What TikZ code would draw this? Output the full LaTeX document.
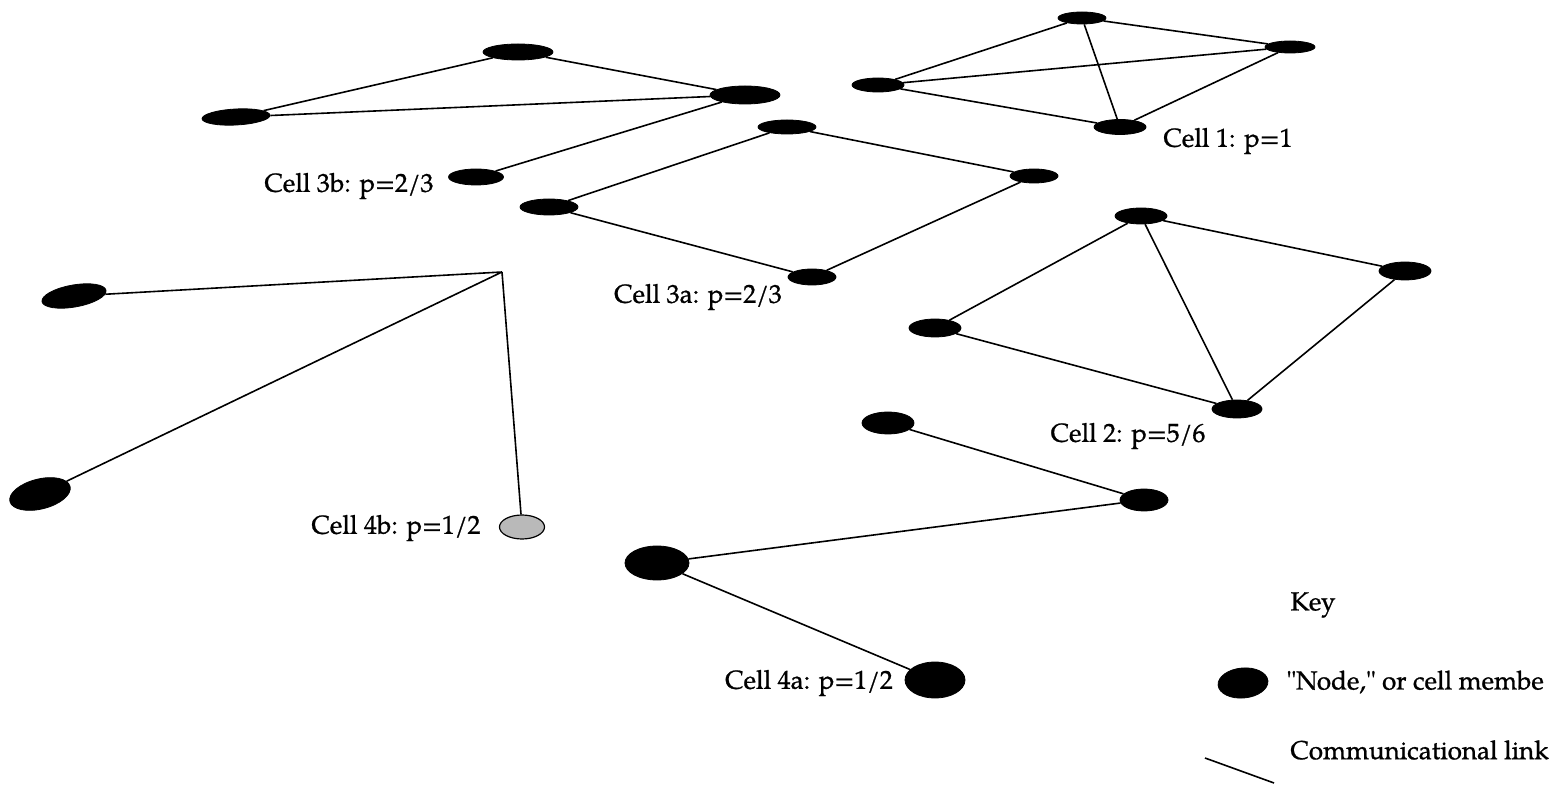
\documentclass[tikz,border=0pt]{standalone}
\usepackage{fontspec}
\setmainfont{TeX Gyre Pagella}
\newfontfamily\lblfont{TeX Gyre Pagella}[FakeBold=0.9]
\usetikzlibrary{shapes.geometric}
\tikzset{
  cellnode/.style 2 args={ellipse, fill=black, draw=black, line width=0.4pt, minimum width=#1*0.5pt, minimum height=#2*0.5pt, inner sep=0pt},
  graynode/.style 2 args={ellipse, fill=gray!55, draw=black, line width=0.6pt, minimum width=#1*0.5pt, minimum height=#2*0.5pt, inner sep=0pt},
  link/.style={line width=0.8pt, black},
  lbl/.style={font=\lblfont\fontsize{13}{15}\selectfont, inner sep=0pt},
}
\begin{document}
\begin{tikzpicture}[x=0.5pt, y=-0.5pt]
\useasboundingbox (0,0) rectangle (1552,785);
% Cell 3b
\node[cellnode={70}{16}] (a) at (518,52) {};
\node[cellnode={68}{16}, rotate=3] (b) at (236,117) {};
\node[cellnode={70}{18}] (c) at (745,95) {};
\node[cellnode={55}{16}] (d) at (476,177) {};
\draw[link] (a) -- (b) (a) -- (c) (b) -- (c) (c) -- (d);
\node[lbl] (l3b) at (349,186) {Cell 3b: p=2/3};
% Cell 1
\node[cellnode={48}{12}] (e) at (1082,18) {};
\node[cellnode={50}{12}] (f) at (1290,47) {};
\node[cellnode={52}{14}] (g) at (878,85) {};
\node[cellnode={52}{15}] (h) at (1120,127) {};
\draw[link] (e) -- (g) (e) -- (f) (e) -- (h) (g) -- (f) (g) -- (h) (h) -- (f);
\node[lbl] (l1) at (1228,141) {Cell 1: p=1};
% Cell 3a
\node[cellnode={58}{14}] (i) at (787,127) {};
\node[cellnode={48}{14}] (j) at (1034,176) {};
\node[cellnode={58}{16}] (k) at (549,207) {};
\node[cellnode={48}{16}] (l) at (812,277) {};
\draw[link] (i) -- (j) (i) -- (k) (k) -- (l) (l) -- (j);
\node[lbl] (l3a) at (698,297) {Cell 3a: p=2/3};
% Cell 2
\node[cellnode={52}{16}] (m) at (1141,216) {};
\node[cellnode={52}{18}] (n) at (1405,271) {};
\node[cellnode={52}{18}] (o) at (935,328) {};
\node[cellnode={50}{18}] (p) at (1237,409) {};
\draw[link] (m) -- (n) (m) -- (o) (m) -- (p) (o) -- (p) (n) -- (p);
\node[lbl] (l2) at (1128,436) {Cell 2: p=5/6};
% Cell 4b
\node[cellnode={65}{22}, rotate=10] (q) at (74,296) {};
\node[cellnode={62}{30}, rotate=14] (r) at (40,494) {};
\coordinate (hub) at (502,272);
\node[graynode={45}{24}] (s) at (522,527) {};
\draw[link] (q) -- (hub) (r) -- (hub) (hub) -- (s);
\node[lbl] (l4b) at (396,528) {Cell 4b: p=1/2};
% Cell 4a
\node[cellnode={52}{22}] (t) at (888,423) {};
\node[cellnode={48}{22}] (u) at (1144,500) {};
\node[cellnode={64}{34}] (v) at (657,563) {};
\node[cellnode={60}{36}] (w) at (935,680) {};
\draw[link] (t) -- (u) (u) -- (v) (v) -- (w);
\node[lbl] (l4a) at (809,683) {Cell 4a: p=1/2};
% Key
\node[lbl] (key) at (1313,605) {Key};
\node[cellnode={50}{30}, rotate=5] (kn) at (1243,683) {};
\node[lbl, anchor=west] (knt) at (1286,682) {"Node," or cell membe};
\coordinate (kl1) at (1205,758);
\coordinate (kl2) at (1274,783);
\draw[link] (kl1) -- (kl2);
\node[lbl, anchor=west] (klt) at (1290,750) {Communicational link};
\end{tikzpicture}
\end{document}
